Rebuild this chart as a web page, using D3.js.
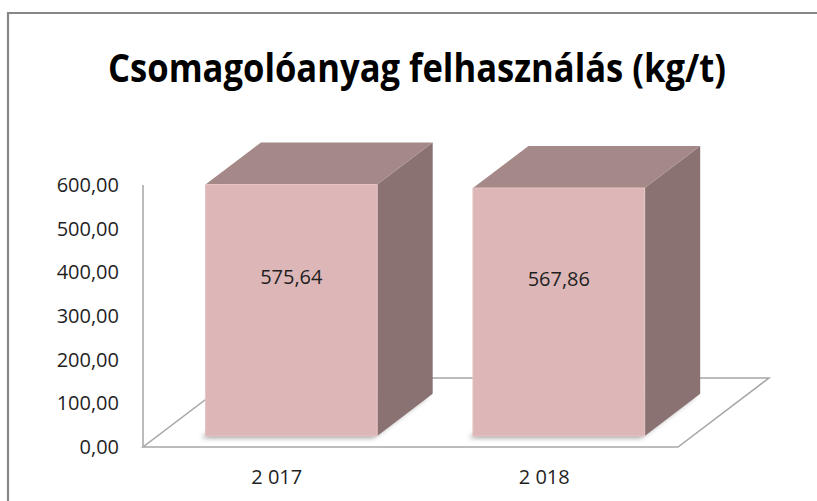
<!doctype html>
<html lang="hu">
<head>
  <meta charset="UTF-8">
  <title>Csomagolóanyag felhasználás</title>
  <script src="https://d3js.org/d3.v7.min.js"></script>
  <style>
    html, body { margin: 0; padding: 0; background: #fff; }
    svg { display: block; }
  </style>
</head>
<body>
  <script>

    var years = [2017, 2018]
      , values = [575.64, 567.86]
      , yTicks = [0, 100, 200, 300, 400, 500, 600]
      , title = "Csomagolóanyag felhasználás (kg/t)"
      ;

    var hu = d3.formatLocale({ decimal: ",", thousands: " ", grouping: [3], currency: ["", " Ft"] })
      , fmtVal = hu.format(",.2f")
      , fmtYear = hu.format(",d")
      ;

    var width = 817
      , height = 501
      , floorLeft = 143
      , floorRight = 678
      , depth = [91, -69]      // floor depth vector (oblique projection)
      , front = 0.16           // bar front face along depth
      , back = 0.77            // bar back face along depth
      , labelFont = "'Open Sans', sans-serif"
      ;

    var svg = d3.select("body").append("svg")
                .attr("width", width)
                .attr("height", height);

    var defs = svg.append("defs");
    defs.append("filter").attr("id", "blur")
        .attr("x", "-20%").attr("y", "-50%").attr("width", "140%").attr("height", "200%")
      .append("feGaussianBlur").attr("stdDeviation", 2.5);

    // chart frame (only left and top edges fall inside the picture)
    svg.append("path")
       .attr("d", "M8,501 L8,13 L817,13")
       .attr("fill", "none")
       .attr("stroke", "#878787")
       .attr("stroke-width", 2.2);

    svg.append("text")
       .attr("x", 417)
       .attr("y", 82)
       .attr("text-anchor", "middle")
       .attr("font-family", "'Liberation Sans Narrow', 'Open Sans', sans-serif")
       .attr("font-weight", "bold")
       .attr("font-size", 39)
       .attr("textLength", 618)
       .attr("lengthAdjust", "spacingAndGlyphs")
       .attr("fill", "#000")
       .text(title);

    var y = d3.scaleLinear()
              .domain([0, 600])
              .range([447, 185]);

    var x = d3.scaleBand()
              .domain(years)
              .range([floorLeft, floorRight])
              .paddingInner(0.358)
              .paddingOuter(0.179);

    function pt(px, py, t) {
      return [px + depth[0] * t, py + depth[1] * t];
    }

    // floor
    var y0 = y(0);
    svg.append("polygon")
       .attr("points", [
          [floorLeft, y0], [floorRight, y0],
          pt(floorRight, y0, 1), pt(floorLeft, y0, 1)
        ].join(" "))
       .attr("fill", "#fff")
       .attr("stroke", "#a6a6a6")
       .attr("stroke-width", 1.5);

    // value axis line
    svg.append("line")
       .attr("x1", floorLeft).attr("x2", floorLeft)
       .attr("y1", y(0)).attr("y2", y(600))
       .attr("stroke", "#a6a6a6")
       .attr("stroke-width", 1.5);

    svg.append("g").selectAll("text")
       .data(yTicks)
       .enter()
       .append("text")
       .attr("x", 119)
       .attr("y", function(d) { return y(d); })
       .attr("dy", "0.35em")
       .attr("text-anchor", "end")
       .attr("font-family", labelFont)
       .attr("font-size", 20)
       .attr("fill", "#1f1f1f")
       .text(function(d) { return fmtVal(d); });

    var bars = svg.selectAll("g.bar")
                  .data(years.map(function(d, i) { return { year: d, value: values[i] }; }))
                  .enter()
                  .append("g")
                  .attr("class", "bar");

    function corners(d) {
      var xl = x(d.year), xr = x(d.year) + x.bandwidth()
        , yb = y(0), yt = y(d.value);
      return {
        fbl: pt(xl, yb, front), fbr: pt(xr, yb, front),
        ftl: pt(xl, yt, front), ftr: pt(xr, yt, front),
        bbl: pt(xl, yb, back), bbr: pt(xr, yb, back),
        btl: pt(xl, yt, back), btr: pt(xr, yt, back)
      };
    }

    // soft shadow under each bar
    bars.append("polygon")
        .attr("points", function(d) {
          var c = corners(d);
          return [c.fbl, c.fbr, c.bbr, c.bbl].map(function(p) { return [p[0] - 4, p[1] + 2]; }).join(" ");
        })
        .attr("fill", "#555")
        .attr("opacity", 0.55)
        .attr("filter", "url(#blur)");

    bars.append("polygon")
        .attr("points", function(d) {
          var c = corners(d);
          return [c.fbr, c.bbr, c.btr, c.ftr].join(" ");
        })
        .attr("fill", "#8b7272");

    bars.append("polygon")
        .attr("points", function(d) {
          var c = corners(d);
          return [c.ftl, c.ftr, c.btr, c.btl].join(" ");
        })
        .attr("fill", "#a58888");

    bars.append("polygon")
        .attr("points", function(d) {
          var c = corners(d);
          return [c.fbl, c.fbr, c.ftr, c.ftl].join(" ");
        })
        .attr("fill", "#ddb7b7")
        .attr("stroke", "#e6c4c4")
        .attr("stroke-width", 1);

    bars.append("text")
        .attr("x", function(d) { return x(d.year) + x.bandwidth() / 2 + depth[0] * front; })
        .attr("y", function(d) { return (y(0) + y(d.value)) / 2 + depth[1] * front - 33; })
        .attr("dy", "0.35em")
        .attr("text-anchor", "middle")
        .attr("font-family", labelFont)
        .attr("font-size", 20)
        .attr("fill", "#1f1f1f")
        .text(function(d) { return fmtVal(d.value); });

    svg.append("g").selectAll("text")
       .data(years)
       .enter()
       .append("text")
       .attr("x", function(d) { return x(d) + x.bandwidth() / 2; })
       .attr("y", 477)
       .attr("dy", "0.35em")
       .attr("text-anchor", "middle")
       .attr("font-family", labelFont)
       .attr("font-size", 20)
       .attr("fill", "#1f1f1f")
       .text(function(d) { return fmtYear(d); });

  </script>
</body>
</html>
